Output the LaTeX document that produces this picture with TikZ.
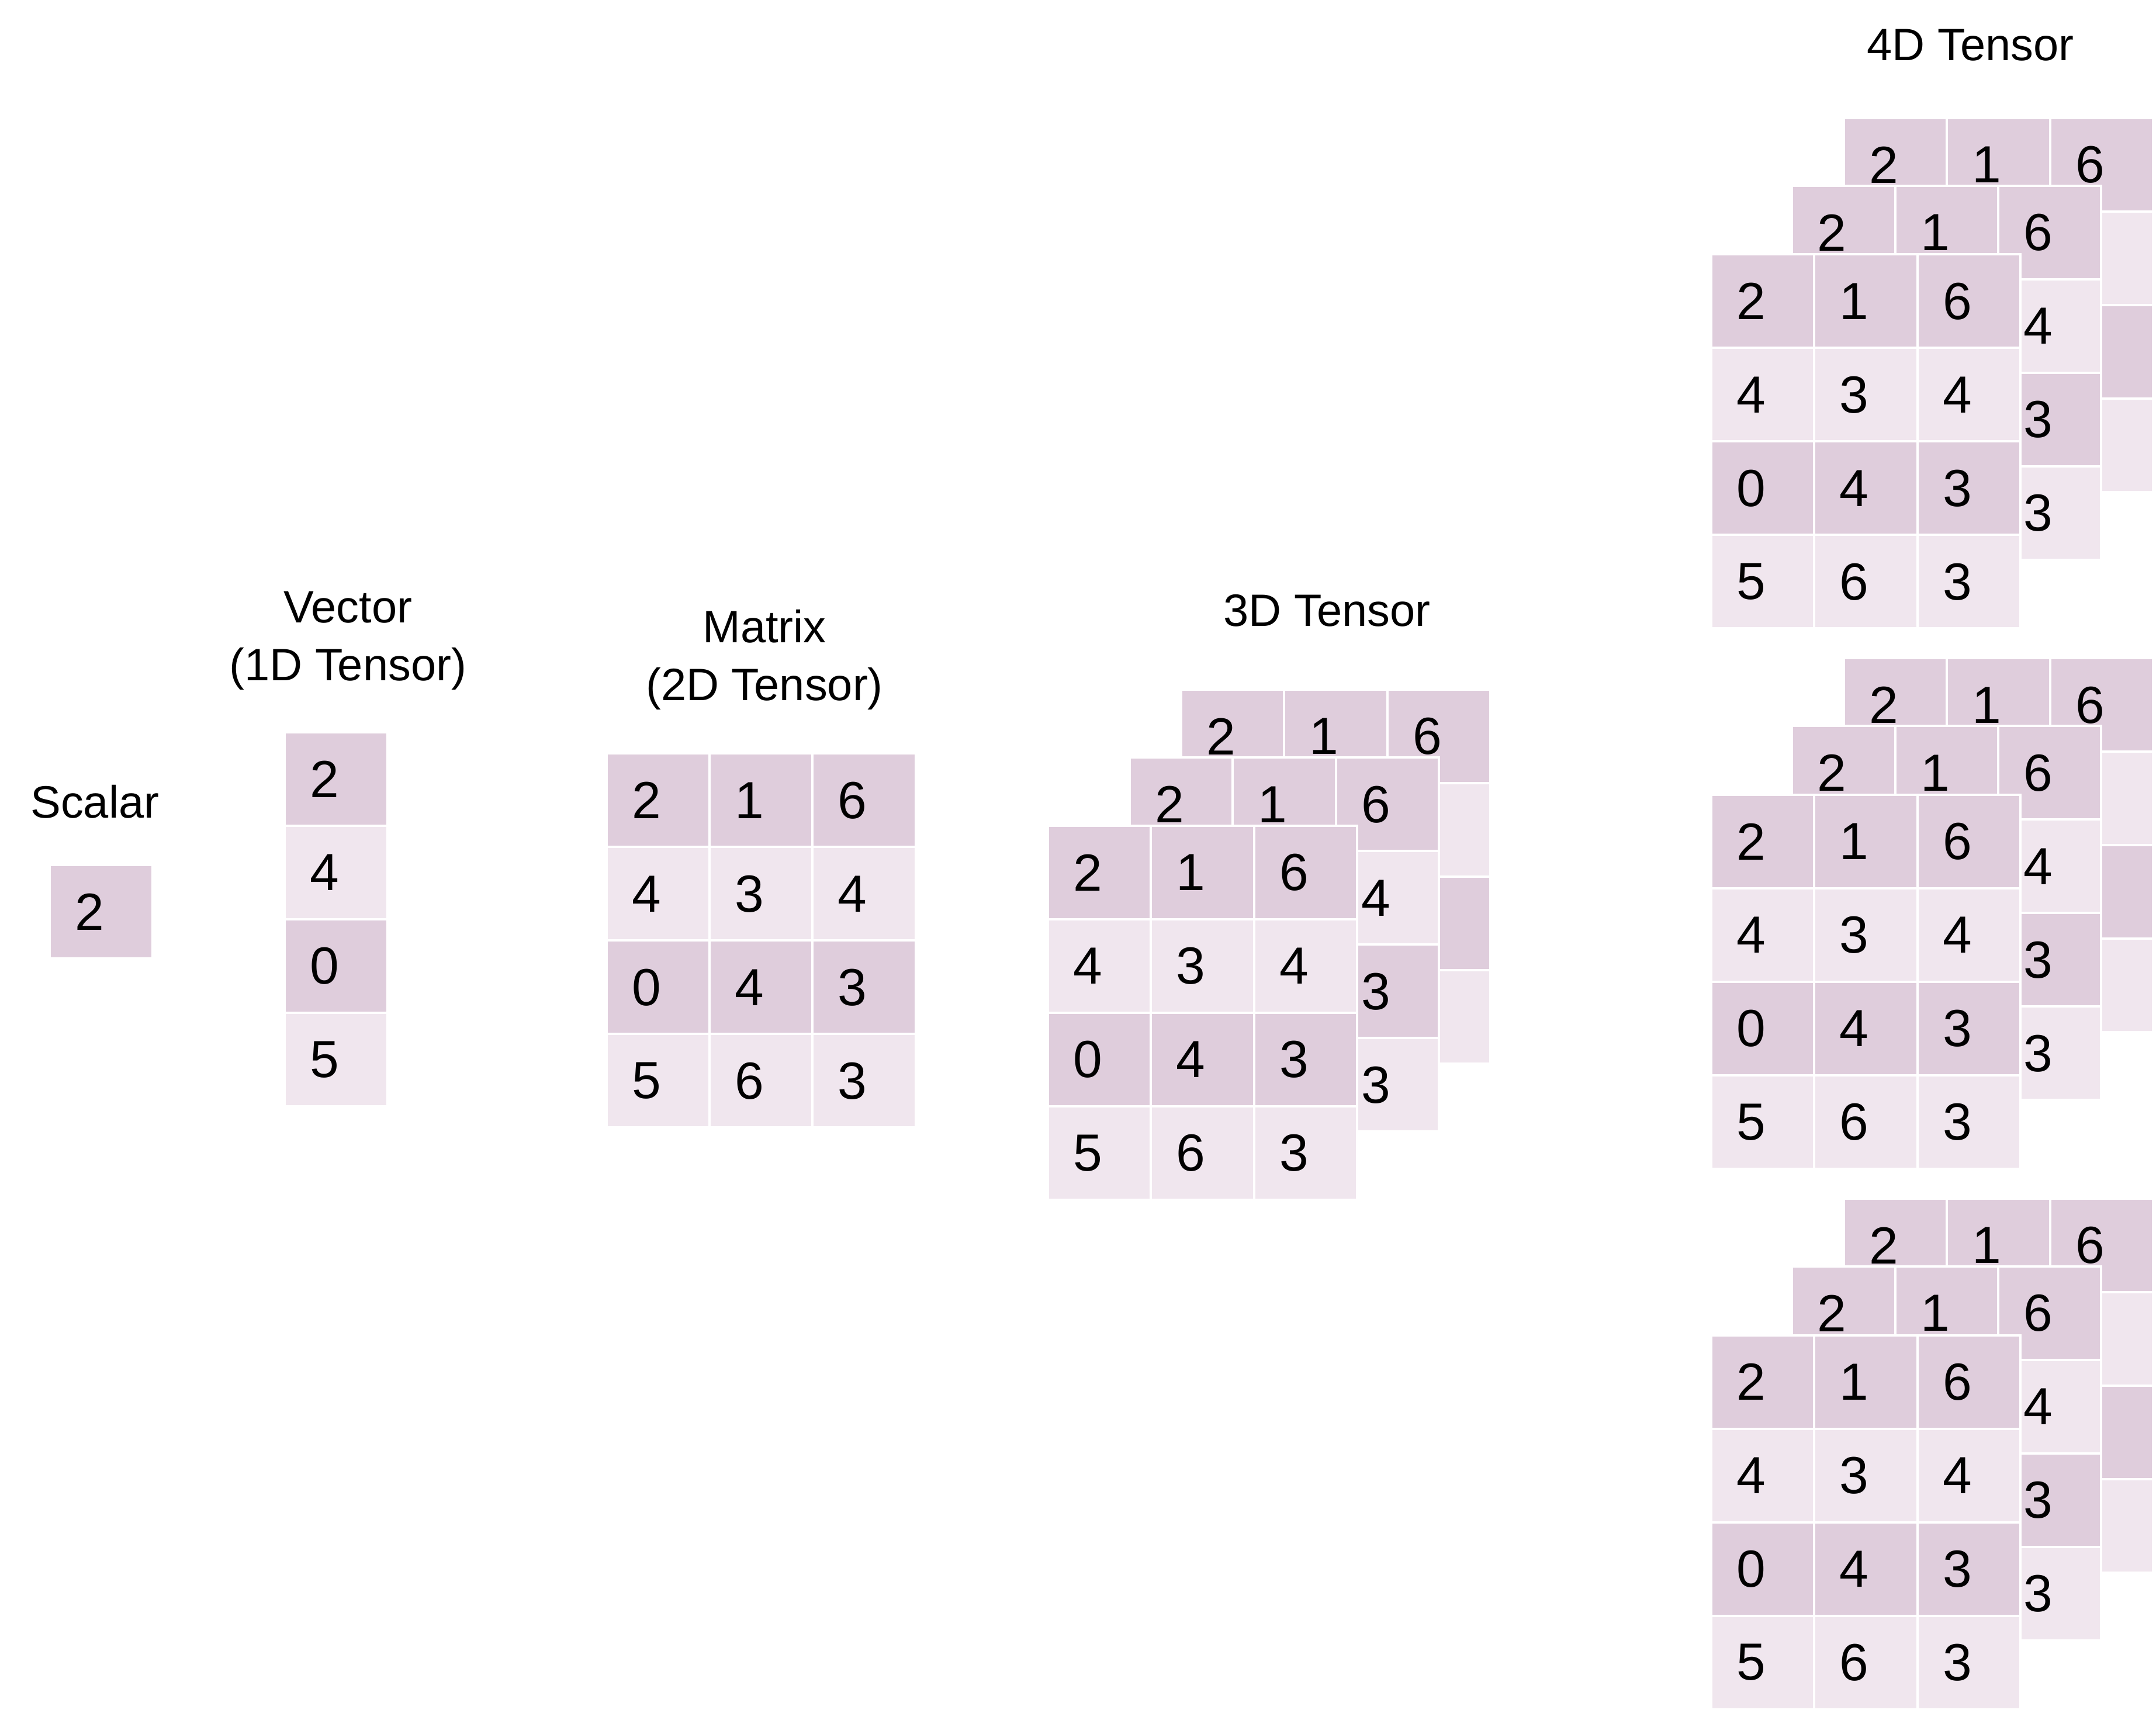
\documentclass[tikz,border=0pt]{standalone}
\usepackage{fontspec}
\setmainfont{Liberation Sans}
\definecolor{celldark}{RGB}{223,205,220}
\definecolor{celllite}{RGB}{240,230,238}
\tikzset{
	cell/.style={draw=white, line width=1.7pt, minimum height=68pt, text width=38pt,
		inner xsep=18.5pt, inner ysep=0pt, align=left, font=\fontsize{38}{46}\selectfont},
	title/.style={align=center, font=\fontsize{33}{42}\selectfont},
}
% one layer of the tensor: 4 rows x 3 columns, top left corner at (#1,#2)
% #4: 0 = all digits, 1 = top row and last column, 2 = top row only (rest is hidden)
\newcommand{\tensorlayer}[4]{%
	\foreach \va/\vb/\vc [count=\ri from 0] in {2/1/6,4/3/4,0/4/3,5/6/3}{
		\ifodd\ri\relax\def\tone{celllite}\else\def\tone{celldark}\fi
		\ifnum\ri>0 \ifnum#4>0 \def\va{}\def\vb{}\fi \ifnum#4>1 \def\vc{}\fi\fi
		\node[cell, fill=\tone] (#3-\ri-0) at (#1+37.5, #2+68*\ri+34) {\va};
		\node[cell, fill=\tone] (#3-\ri-1) at (#1+112.5, #2+68*\ri+34) {\vb};
		\node[cell, fill=\tone] (#3-\ri-2) at (#1+187.5, #2+68*\ri+34) {\vc};
	}}
\begin{document}
\begin{tikzpicture}[x=1pt, y=-1pt]
			\useasboundingbox (0,0) rectangle (1568,1261);
			% scalar
			\node[title] (scalar) at (69,583) {Scalar};
			\node[cell, fill=celldark] (s) at (73.5,663) {2};
			% vector
			\node[title] (vector) at (253,466) {Vector\\(1D Tensor)};
			\foreach \v [count=\ri from 0] in {2,4,0,5}{
				\ifodd\ri\relax\def\tone{celllite}\else\def\tone{celldark}\fi
				\node[cell, fill=\tone] (v-\ri) at (244.5, 532.5+68*\ri+34) {\v};
			}
			% matrix
			\node[title] (matrix) at (556,480) {Matrix\\(2D Tensor)};
			\tensorlayer{441}{548}{mat}{0}
			% 3D tensor
			\node[title] (tensor3) at (965,444) {3D Tensor};
			\tensorlayer{859}{501.5}{tb}{2}
			\tensorlayer{821.5}{551}{tm}{1}
			\tensorlayer{762}{600.5}{tf}{0}
			% 4D tensor
			\node[title] (tensor4) at (1433,33) {4D Tensor};
			\foreach \g [count=\k] in {0,393,786}{
				\tensorlayer{1341}{85.8+\g}{q\k b}{2}
				\tensorlayer{1303.2}{135.1+\g}{q\k m}{1}
				\tensorlayer{1244.4}{185.1+\g}{q\k f}{0}
			}
			\end{tikzpicture}
\end{document}
